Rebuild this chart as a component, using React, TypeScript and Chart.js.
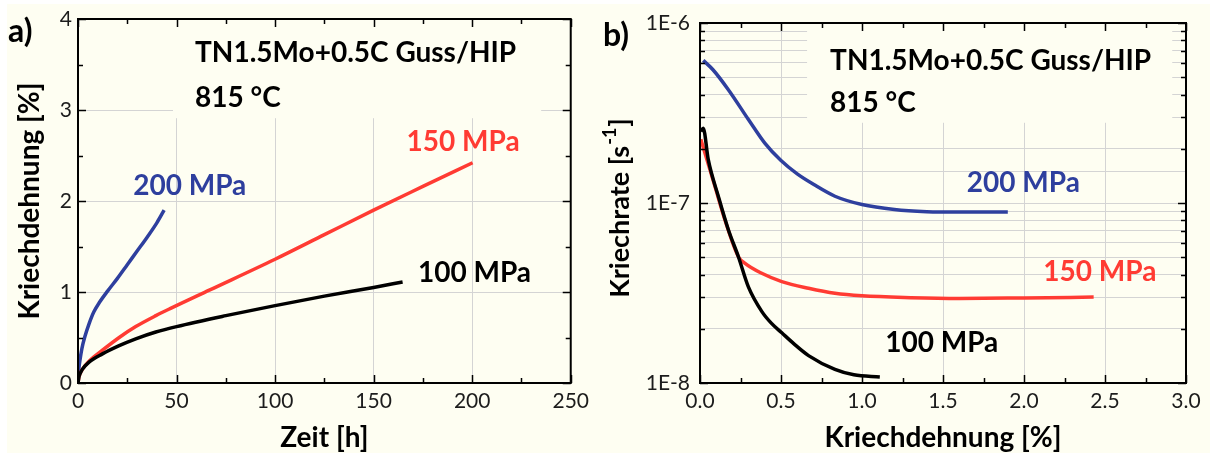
import React, { useEffect, useRef } from "react";
import { Chart, registerables } from "chart.js";
Chart.register(...registerables);

const FONT = "Lato, 'Open Sans', 'DejaVu Sans', sans-serif";
const CREAM = "#FEFEF2";
const BLUE = "#2E3F9E";
const RED = "#FF3B33";
const BLACK = "#000000";
const GRID = "#d4d4d4";
const TICKTXT = "#1c1c1c";

// ---------- Panel a) : creep strain vs time ----------
const timeA200 = [0, 0.5, 1, 2, 3.5, 5.6, 8, 11, 15, 20, 25, 30, 35, 40, 43.7];
const strainA200 = [0, 0.17, 0.25, 0.38, 0.51, 0.65, 0.78, 0.89, 1.01, 1.15, 1.3, 1.45, 1.6, 1.76, 1.9];
const timeA150 = [0, 0.5, 1, 2.2, 5.6, 12.4, 20.9, 29.3, 39.5, 47, 66.6, 100, 125, 150, 175, 200.2];
const strainA150 = [0, 0.07, 0.1, 0.15, 0.24, 0.36, 0.5, 0.62, 0.74, 0.82, 1.02, 1.36, 1.63, 1.9, 2.16, 2.42];
const timeA100 = [0, 0.5, 1, 2.2, 5.6, 12.4, 20.9, 29.3, 39.5, 50, 75, 100, 125, 150, 164.7];
const strainA100 = [0, 0.07, 0.1, 0.15, 0.23, 0.32, 0.41, 0.485, 0.56, 0.62, 0.74, 0.85, 0.955, 1.05, 1.11];

// ---------- Panel b) : creep rate vs creep strain ----------
const strainB200 = [0.02, 0.08, 0.175, 0.3, 0.4, 0.5, 0.6, 0.7, 0.833, 1.0, 1.2, 1.4, 1.6, 1.9];
const rateB200 = [6.2e-7, 5.5e-7, 4.26e-7, 2.9e-7, 2.15e-7, 1.72e-7, 1.45e-7, 1.27e-7, 1.09e-7, 9.8e-8, 9.2e-8, 8.95e-8, 8.9e-8, 8.9e-8];
const strainB150 = [0.005, 0.031, 0.093, 0.154, 0.237, 0.278, 0.381, 0.505, 0.67, 0.833, 1.0, 1.3, 1.6, 2.0, 2.43];
const rateB150 = [2.26e-7, 1.89e-7, 1.23e-7, 8.05e-8, 5.03e-8, 4.62e-8, 4.07e-8, 3.66e-8, 3.36e-8, 3.15e-8, 3.05e-8, 2.98e-8, 2.95e-8, 2.97e-8, 3.0e-8];
const strainB100 = [0.005, 0.02, 0.051, 0.113, 0.175, 0.237, 0.298, 0.381, 0.44, 0.505, 0.58, 0.67, 0.833, 0.95, 1.11];
const rateB100 = [2.5e-7, 2.6e-7, 1.74e-7, 1.09e-7, 7.1e-8, 5.03e-8, 3.43e-8, 2.5e-8, 2.15e-8, 1.9e-8, 1.65e-8, 1.42e-8, 1.19e-8, 1.11e-8, 1.08e-8];

// ---------- Texts ----------
const materialText = "TN1.5Mo+0.5C Guss/HIP";
const tempText = "815 °C";
const seriesNames = ["200 MPa", "150 MPa", "100 MPa"];

type Label = { text: string; x: number; y: number; color: string };
type Deco = {
  letter: string;
  box: { x0: number; x1: number; y0: number; y1: number };
  labels: Label[];
  xMajor: number;
  xMinor: number;
  yMajor?: number;
  yMinor?: number;
  logY?: boolean;
  yTitleSup?: boolean;
};

function ds(xs: number[], ys: number[], color: string) {
  return {
    data: xs.map((x, i) => ({ x, y: ys[i] })),
    showLine: true,
    borderColor: color,
    backgroundColor: color,
    borderWidth: 3.5,
    pointRadius: 0,
    cubicInterpolationMode: "monotone",
  };
}

function near(v: number, step: number) {
  return Math.abs(v / step - Math.round(v / step)) < 1e-6;
}

function makeDeco(cfg: Deco) {
  return {
    id: "deco",
    beforeDatasetsDraw(chart: any) {
      const { ctx } = chart;
      const x = chart.scales.x, y = chart.scales.y;
      const b = cfg.box;
      const px0 = x.getPixelForValue(b.x0), px1 = x.getPixelForValue(b.x1);
      const py0 = y.getPixelForValue(b.y0), py1 = y.getPixelForValue(b.y1);
      ctx.save();
      ctx.fillStyle = CREAM;
      ctx.fillRect(Math.min(px0, px1), Math.min(py0, py1), Math.abs(px1 - px0), Math.abs(py1 - py0));
      ctx.restore();
    },
    afterDraw(chart: any) {
      const { ctx, chartArea: a } = chart;
      const x = chart.scales.x, y = chart.scales.y;
      ctx.save();
      // ticks (inward)
      ctx.strokeStyle = "#000";
      ctx.lineWidth = 1.5;
      ctx.beginPath();
      for (let v = x.min; v <= x.max + 1e-9; v += cfg.xMinor) {
        const len = near(v, cfg.xMajor) ? 8 : 5;
        const px = Math.round(x.getPixelForValue(v)) + 0.5;
        ctx.moveTo(px, a.bottom);
        ctx.lineTo(px, a.bottom - len);
        ctx.moveTo(px, a.top);
        ctx.lineTo(px, a.top + len);
      }
      const yTicks: { v: number; major: boolean }[] = [];
      if (cfg.logY) {
        for (let e = -8; e <= -7; e++) {
          for (let m = 1; m <= 9; m++) yTicks.push({ v: m * Math.pow(10, e), major: m === 1 });
        }
        yTicks.push({ v: 1e-6, major: true });
      } else {
        for (let v = y.min; v <= y.max + 1e-9; v += cfg.yMinor as number) {
          yTicks.push({ v, major: near(v, cfg.yMajor as number) });
        }
      }
      for (const t of yTicks) {
        const len = t.major ? 8 : 5;
        const py = Math.round(y.getPixelForValue(t.v)) + 0.5;
        ctx.moveTo(a.left, py);
        ctx.lineTo(a.left + len, py);
        ctx.moveTo(a.right, py);
        ctx.lineTo(a.right - len, py);
      }
      ctx.stroke();
      // border
      ctx.lineWidth = 2;
      ctx.strokeRect(a.left, a.top, a.right - a.left, a.bottom - a.top);
      // labels
      ctx.textBaseline = "middle";
      ctx.textAlign = "left";
      ctx.font = `bold 28px ${FONT}`;
      for (const l of cfg.labels) {
        ctx.fillStyle = l.color;
        ctx.fillText(l.text, x.getPixelForValue(l.x), y.getPixelForValue(l.y));
      }
      // panel letter
      ctx.fillStyle = "#000";
      ctx.font = `bold 32px ${FONT}`;
      ctx.fillText(cfg.letter, 8, cfg.yTitleSup ? 36 : 32);
      // y-title with superscript
      if (cfg.yTitleSup) {
        const cx = 25, cy = (a.top + a.bottom) / 2 + 5;
        ctx.translate(cx, cy);
        ctx.rotate(-Math.PI / 2);
        const f1 = `bold 27px ${FONT}`, f2 = `bold 18px ${FONT}`;
        ctx.font = f1;
        const p1 = "Kriechrate [s", p3 = "]";
        const w1 = ctx.measureText(p1).width, w3 = ctx.measureText(p3).width;
        ctx.font = f2;
        const p2 = "-1";
        const w2 = ctx.measureText(p2).width;
        let sx = -(w1 + w2 + w3 + 2) / 2;
        ctx.font = f1;
        ctx.fillText(p1, sx, 0);
        sx += w1 + 1;
        ctx.font = f2;
        ctx.fillText(p2, sx, -10);
        sx += w2 + 1;
        ctx.font = f1;
        ctx.fillText(p3, sx, 0);
      }
      ctx.restore();
    },
  };
}

const tickFont = { family: FONT, size: 21 };
const titleFont = { family: FONT, size: 28, weight: "bold" as const };

function configA() {
  const deco = makeDeco({
    letter: "a)",
    box: { x0: 48.2, x1: 235, y0: 2.91, y1: 4 },
    labels: [
      { text: materialText, x: 59.4, y: 3.63, color: BLACK },
      { text: tempText, x: 59.4, y: 3.13, color: BLACK },
      { text: seriesNames[0], x: 28, y: 2.17, color: BLUE },
      { text: seriesNames[1], x: 166.7, y: 2.65, color: RED },
      { text: seriesNames[2], x: 172.5, y: 1.21, color: BLACK },
    ],
    xMajor: 50,
    xMinor: 25,
    yMajor: 1,
    yMinor: 0.5,
  });
  return {
    type: "scatter",
    data: {
      datasets: [
        ds(timeA100, strainA100, BLACK),
        ds(timeA150, strainA150, RED),
        ds(timeA200, strainA200, BLUE),
      ],
    },
    options: {
      responsive: false,
      animation: false,
      devicePixelRatio: 1,
      layout: { padding: { top: 19, right: 24, left: 0, bottom: 0 } },
      plugins: { legend: { display: false }, tooltip: { enabled: false } },
      scales: {
        x: {
          type: "linear",
          min: 0,
          max: 250,
          ticks: { stepSize: 50, color: TICKTXT, font: tickFont, padding: 6, maxRotation: 0 },
          grid: { color: GRID, lineWidth: 1, drawTicks: false },
          border: { display: false },
          title: { display: true, text: "Zeit [h]", color: "#000", font: titleFont, padding: { top: 0, bottom: 0 } },
          afterFit: (s: any) => { s.height = 72; },
        },
        y: {
          type: "linear",
          min: 0,
          max: 4,
          ticks: { stepSize: 1, color: TICKTXT, font: tickFont, padding: 6 },
          grid: { color: GRID, lineWidth: 1, drawTicks: false },
          border: { display: false },
          title: { display: true, text: "Kriechdehnung [%]", color: "#000", font: titleFont, padding: { top: 13, bottom: 0 } },
          afterFit: (s: any) => { s.width = 78; },
        },
      },
    },
    plugins: [deco],
  };
}

function configB() {
  const deco = makeDeco({
    letter: "b)",
    box: { x0: 0.661, x1: 2.915, y0: 2.79e-7, y1: 1e-6 },
    labels: [
      { text: materialText, x: 0.803, y: 6.17e-7, color: BLACK },
      { text: tempText, x: 0.803, y: 3.6e-7, color: BLACK },
      { text: seriesNames[0], x: 1.647, y: 1.29e-7, color: BLUE },
      { text: seriesNames[1], x: 2.119, y: 4.13e-8, color: RED },
      { text: seriesNames[2], x: 1.143, y: 1.66e-8, color: BLACK },
    ],
    xMajor: 0.5,
    xMinor: 0.25,
    logY: true,
    yTitleSup: true,
  });
  return {
    type: "scatter",
    data: {
      datasets: [
        ds(strainB100, rateB100, BLACK),
        ds(strainB150, rateB150, RED),
        ds(strainB200, rateB200, BLUE),
      ],
    },
    options: {
      responsive: false,
      animation: false,
      devicePixelRatio: 1,
      layout: { padding: { top: 23, right: 24, left: 0, bottom: 0 } },
      plugins: { legend: { display: false }, tooltip: { enabled: false } },
      scales: {
        x: {
          type: "linear",
          min: 0,
          max: 3,
          ticks: {
            stepSize: 0.5,
            color: TICKTXT,
            font: tickFont,
            padding: 6,
            maxRotation: 0,
            callback: (v: any) => Number(v).toFixed(1),
          },
          grid: { color: GRID, lineWidth: 1, drawTicks: false },
          border: { display: false },
          title: { display: true, text: "Kriechdehnung [%]", color: "#000", font: titleFont, padding: { top: 0, bottom: 0 } },
          afterFit: (s: any) => { s.height = 72; },
        },
        y: {
          type: "logarithmic",
          min: 1e-8,
          max: 1e-6,
          ticks: {
            color: TICKTXT,
            font: tickFont,
            padding: 10,
            autoSkip: false,
            callback: (v: any) => {
              const l = Math.log10(Number(v));
              return Math.abs(l - Math.round(l)) < 1e-6 ? `1E${Math.round(l)}` : "";
            },
          },
          grid: { color: GRID, lineWidth: 1, drawTicks: false },
          border: { display: false },
          title: { display: false },
          afterFit: (s: any) => { s.width = 105; },
        },
      },
    },
    plugins: [deco],
  };
}

function Panel({ left, width, make }: { left: number; width: number; make: () => any }) {
  const ref = useRef<HTMLCanvasElement | null>(null);
  useEffect(() => {
    if (!ref.current) return;
    const chart = new Chart(ref.current, make());
    return () => chart.destroy();
  }, []);
  return (
    <canvas
      ref={ref}
      width={width}
      height={455}
      style={{ position: "absolute", left, top: 0, width, height: 455 }}
    />
  );
}

export default function App() {
  return (
    <div style={{ position: "fixed", left: 0, top: 0, width: 1210, height: 455, background: "#ffffff", overflow: "hidden" }}>
      <div style={{ position: "absolute", left: 7, top: 4, width: 1203, height: 449, background: CREAM }} />
      <Panel left={0} width={595} make={configA} />
      <Panel left={595} width={615} make={configB} />
    </div>
  );
}
